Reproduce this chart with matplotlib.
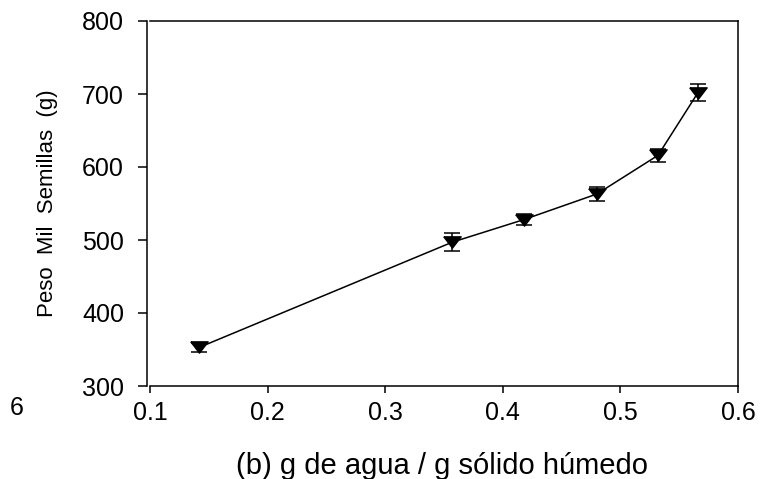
import matplotlib.pyplot as plt

# humedad (g agua / g solido humedo) y peso de mil semillas
humedad = [0.142, 0.357, 0.418, 0.480, 0.532, 0.566]
peso = [353, 497, 528, 563, 616, 702]
error = [6, 12, 8, 9, 9, 12]

plt.rcParams["font.family"] = ["Liberation Sans", "DejaVu Sans"]

fig = plt.figure(figsize=(7.61, 4.79), dpi=100)
ax = fig.add_axes([147 / 761, 93 / 479, 591 / 761, 365 / 479])

# triangulo invertido un poco mas ancho que alto
tri = [(-1, 0.65), (1, 0.65), (0, -0.65), (-1, 0.65)]
ax.errorbar(humedad, peso, yerr=error, color="black", linewidth=1.1,
            marker=tri, markersize=12.5, capsize=6, elinewidth=1.1, capthick=1.1)

ax.set_xlim(0.1 - 3 * 0.5 / 588, 0.6)
ax.set_ylim(300, 800)
ax.set_xticks([0.1, 0.2, 0.3, 0.4, 0.5, 0.6])
ax.set_xticklabels(["0.1", "0.2", "0.3", "0.4", "0.5", "0.6"])
ax.set_yticks([300, 400, 500, 600, 700, 800])

ax.spines["bottom"].set_bounds(0.1, 0.6)
ax.spines["top"].set_bounds(0.1, 0.6)
for s in ax.spines.values():
    s.set_linewidth(1.1)

ax.tick_params(axis="y", direction="out", length=6.5, width=1.1, labelsize=18, pad=10)
ax.tick_params(axis="x", direction="out", length=5, width=1.1, labelsize=18, pad=6)

ax.set_xlabel("(b) g de agua / g sólido húmedo", fontsize=21)
ax.set_ylabel("Peso  Mil  Semillas  (g)", fontsize=16)
ax.xaxis.set_label_coords(0.5, (386 - 452) / 365)
ax.yaxis.set_label_coords((58 - 147) / 591, 0.5)

fig.text(17 / 761, 1 - 408 / 479, "6", fontsize=18, ha="center", va="center")

plt.savefig("out.png", dpi=100)
plt.close()
